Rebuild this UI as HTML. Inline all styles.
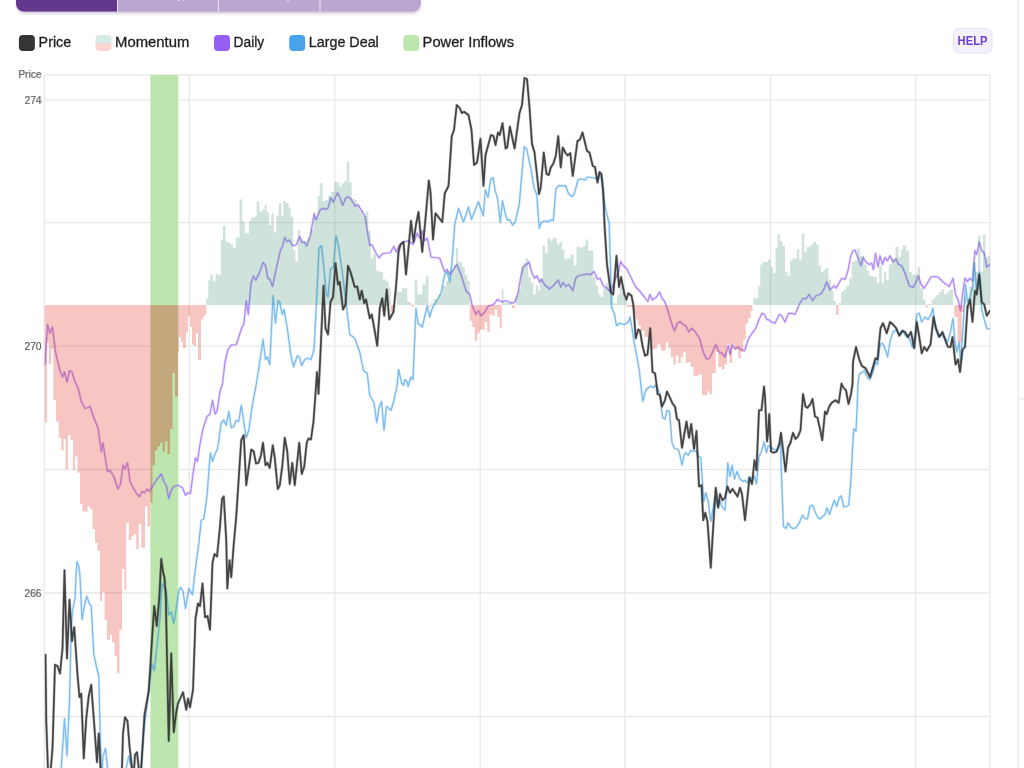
<!DOCTYPE html>
<html><head><meta charset="utf-8"><title>Chart</title>
<style>html,body{margin:0;padding:0;background:#fff;overflow:hidden}body{width:1024px;height:768px;position:relative;font-family:"Liberation Sans",sans-serif}svg{position:absolute;left:0;top:0;display:block}text{font-family:"Liberation Sans",sans-serif}</style></head><body>
<svg width="1024" height="768" viewBox="0 0 1024 768">
<defs>
<clipPath id="plot"><rect x="44.5" y="75.0" width="945.5" height="703.0"/></clipPath>
<clipPath id="band"><rect x="150.4" y="75.0" width="27.900000000000006" height="768"/></clipPath>
<clipPath id="notband"><rect x="0" y="0" width="150.4" height="788"/><rect x="178.3" y="0" width="1024" height="788"/></clipPath>
<filter id="soft" x="-5%" y="-5%" width="110%" height="110%"><feGaussianBlur stdDeviation="0.68"/></filter>
<filter id="soft3" x="-5%" y="-5%" width="110%" height="110%"><feGaussianBlur stdDeviation="0.7"/></filter>
<filter id="soft2" x="-5%" y="-5%" width="110%" height="110%"><feGaussianBlur stdDeviation="0.45"/></filter>
</defs>
<rect width="1024" height="768" fill="#fff"/>
<g filter="url(#soft2)">
<line x1="1018.1" y1="0" x2="1018.1" y2="768" stroke="#ececee" stroke-width="1.5"/>
<line x1="1018.1" y1="399" x2="1024" y2="399" stroke="#ececee" stroke-width="1.5"/>
</g>
<filter id="shadow" x="-5%" y="-50%" width="110%" height="250%"><feGaussianBlur stdDeviation="1.6"/></filter>
<path d="M17,-5 H420 V5 a7,7 0 0 1 -7,7 H24 a7,7 0 0 1 -7,-7 Z" fill="rgba(60,40,90,0.28)" filter="url(#shadow)" transform="translate(0,1.2)"/>
<g filter="url(#soft2)">
<path d="M16,-5 H420.8 V3.5 a8,8 0 0 1 -8,8 H24 a8,8 0 0 1 -8,-8 Z" fill="#bba6cf"/>
<path d="M16,-5 H117 V11.5 H24 a8,8 0 0 1 -8,-8 Z" fill="#62388f"/>
<line x1="117.6" y1="-1" x2="117.6" y2="11.5" stroke="#ece6f3" stroke-width="1"/>
<line x1="218.4" y1="-1" x2="218.4" y2="11.5" stroke="#ece6f3" stroke-width="1"/>
<line x1="320.0" y1="-1" x2="320.0" y2="11.5" stroke="#ece6f3" stroke-width="1"/>
<rect x="178" y="-1" width="1.6" height="2" fill="#efe9f5"/><rect x="183" y="-1" width="1.2" height="1.6" fill="#e6dcee"/><rect x="287.2" y="-1" width="1.6" height="2" fill="#efe9f5"/>
</g>
<g filter="url(#soft2)">
<rect x="18.9" y="35.1" width="16" height="15.8" rx="4" fill="#353535"/>
<clipPath id="mtop"><rect x="95" y="35" width="17" height="8"/></clipPath>
<clipPath id="mbot"><rect x="95" y="43" width="17" height="8.5"/></clipPath>
<rect x="95.5" y="35.1" width="16" height="15.8" rx="4" fill="#d7ebe6" clip-path="url(#mtop)"/>
<rect x="95.5" y="35.1" width="16" height="15.8" rx="4" fill="#fbd5d0" clip-path="url(#mbot)"/>
<rect x="214.0" y="35.1" width="16" height="15.8" rx="4" fill="#9760f5"/>
<rect x="289.2" y="35.1" width="16" height="15.8" rx="4" fill="#4aa3ea"/>
<rect x="403.3" y="35.1" width="16" height="15.8" rx="4" fill="#bde5ae"/>
<text x="38.6" y="47.4" font-size="14" fill="#1f1f1f" stroke="#1f1f1f" stroke-width="0.3" textLength="32.6" lengthAdjust="spacingAndGlyphs">Price</text>
<text x="115.1" y="47.4" font-size="14" fill="#1f1f1f" stroke="#1f1f1f" stroke-width="0.3" textLength="74.2" lengthAdjust="spacingAndGlyphs">Momentum</text>
<text x="233.6" y="47.4" font-size="14" fill="#1f1f1f" stroke="#1f1f1f" stroke-width="0.3" textLength="30.6" lengthAdjust="spacingAndGlyphs">Daily</text>
<text x="308.8" y="47.4" font-size="14" fill="#1f1f1f" stroke="#1f1f1f" stroke-width="0.3" textLength="70.0" lengthAdjust="spacingAndGlyphs">Large Deal</text>
<text x="422.6" y="47.4" font-size="14" fill="#1f1f1f" stroke="#1f1f1f" stroke-width="0.3" textLength="91.5" lengthAdjust="spacingAndGlyphs">Power Inflows</text>
<rect x="953.5" y="28.5" width="38.5" height="24.5" rx="5.5" fill="#f4f1fe" stroke="#e7e1fa" stroke-width="1"/>
<text x="972.6" y="45.3" font-size="12.4" font-weight="bold" fill="#6c41d2" text-anchor="middle" textLength="30" lengthAdjust="spacingAndGlyphs">HELP</text>
</g>
<g filter="url(#soft2)" stroke="#e9e9e9" stroke-width="1.3" fill="none">
<line x1="44.5" y1="75" x2="990.0" y2="75"/>
<line x1="44.5" y1="99.8" x2="990.0" y2="99.8"/>
<line x1="44.5" y1="222.7" x2="990.0" y2="222.7"/>
<line x1="44.5" y1="346.2" x2="990.0" y2="346.2"/>
<line x1="44.5" y1="469.5" x2="990.0" y2="469.5"/>
<line x1="44.5" y1="593" x2="990.0" y2="593"/>
<line x1="44.5" y1="716.5" x2="990.0" y2="716.5"/>
<line x1="44.3" y1="75" x2="44.3" y2="768"/>
<line x1="189.3" y1="75" x2="189.3" y2="768"/>
<line x1="334.8" y1="75" x2="334.8" y2="768"/>
<line x1="480.2" y1="75" x2="480.2" y2="768"/>
<line x1="624.8" y1="75" x2="624.8" y2="768"/>
<line x1="770.5" y1="75" x2="770.5" y2="768"/>
<line x1="915.6" y1="75" x2="915.6" y2="768"/>
<line x1="990" y1="75" x2="990" y2="768"/>
</g>
<g filter="url(#soft2)" fill="#5f5f5f" stroke="#5f5f5f" stroke-width="0.22" font-size="10.3" transform="rotate(0.03 41 350)">
<text x="41.6" y="78.3" text-anchor="end">Price</text>
<text x="41.6" y="103.55" text-anchor="end">274</text>
<text x="41.6" y="349.95" text-anchor="end">270</text>
<text x="41.6" y="596.75" text-anchor="end">266</text>
</g>
<g clip-path="url(#plot)">
<rect x="150.4" y="75.0" width="27.900000000000006" height="768" fill="#bde5ae"/>
<g fill="none" stroke-linejoin="round" stroke-linecap="round">
<polyline points="45.00,364.50 47.50,324.50 50.00,333.00 52.50,327.00 55.50,352.00 60.00,370.75 62.50,377.00 64.50,372.00 67.00,382.00 69.50,370.75 72.00,372.00 75.00,382.00 76.25,384.00 78.75,390.25 81.25,401.50 85.00,408.50 87.50,407.75 90.00,406.50 93.75,417.75 98.00,427.75 101.25,451.50 103.00,442.75 105.00,456.50 107.50,471.50 110.00,470.25 113.75,476.50 118.00,489.00 120.50,484.00 123.00,465.25 125.00,469.00 127.50,462.75 130.00,481.50 133.75,489.00 137.00,494.00 139.50,496.50 142.00,491.50 144.50,492.75 147.00,489.00 149.50,491.50 152.50,486.50 156.25,480.25 161.25,474.00 163.75,481.50 166.25,485.25 168.75,498.50 171.25,490.25 173.75,486.50 178.00,485.25 182.50,487.75 185.50,495.25 188.00,492.75 190.50,493.50 193.00,474.00 195.50,457.75 197.50,461.50 200.00,444.00 203.00,429.00 207.00,416.50 210.00,414.00 212.50,400.25 215.00,414.00 217.00,411.50 220.00,391.50 222.50,384.00 225.00,362.00 228.00,349.50 231.25,345.00 236.25,344.50 238.75,337.00 242.00,327.00 243.75,324.50 246.25,300.75 248.25,314.50 251.00,283.30 253.50,276.00 255.80,280.20 259.40,272.90 263.10,262.50 265.60,265.60 267.70,278.10 269.80,279.20 272.50,286.50 276.00,269.80 280.20,251.00 282.30,246.90 284.80,237.50 287.10,241.70 289.60,240.00 292.70,245.80 296.25,244.80 299.60,236.50 302.10,242.70 304.20,241.70 306.70,245.80 310.40,235.40 314.20,213.50 316.00,219.80 319.80,210.40 322.90,208.30 326.00,209.40 328.10,207.90 330.80,197.90 333.30,202.10 337.50,192.70 339.60,196.90 342.70,205.20 345.80,197.90 348.30,196.90 351.00,199.00 355.20,206.25 357.70,204.60 361.50,210.40 365.20,216.70 367.70,233.30 369.80,245.40 371.90,244.80 376.00,253.10 379.20,257.90 382.30,253.75 390.60,252.50 393.75,246.25 396.25,252.00 399.00,245.80 403.50,242.00 408.50,240.75 413.00,244.50 417.25,233.25 419.75,238.25 422.25,230.75 424.75,240.75 427.25,238.25 431.00,257.00 439.75,258.25 444.75,272.00 447.25,269.50 449.75,274.50 453.50,269.50 456.75,264.50 461.00,274.50 466.00,290.75 469.75,294.50 472.25,305.75 476.00,314.50 478.50,310.75 481.00,315.75 484.75,312.00 488.50,305.75 493.50,304.50 497.25,299.50 502.25,302.00 506.00,300.75 512.00,303.25 515.00,302.00 518.25,292.00 520.75,277.00 523.25,267.00 526.50,264.50 529.00,262.00 532.00,273.25 534.50,278.25 537.00,275.75 539.50,282.00 541.50,279.50 544.50,284.50 549.50,289.00 553.25,285.75 558.25,280.00 560.75,287.00 563.25,282.50 565.75,286.50 569.00,284.50 572.75,290.75 575.75,278.25 578.25,275.75 587.00,274.00 590.75,274.50 594.00,271.50 597.75,279.50 600.00,278.25 603.25,285.75 607.00,288.25 610.75,292.00 615.75,278.25 618.25,272.00 620.75,261.50 623.25,265.75 626.50,268.25 630.75,277.00 635.75,287.00 639.50,290.75 644.50,297.00 647.75,301.50 650.00,294.50 652.50,300.00 656.50,297.00 659.50,292.00 662.00,298.25 665.00,302.00 668.25,312.00 672.00,324.50 674.50,330.75 677.50,323.25 680.00,321.50 683.25,324.50 685.75,325.75 689.00,332.00 691.50,328.25 694.50,330.75 699.50,338.25 703.25,352.00 706.50,359.00 709.50,358.25 712.00,353.25 715.75,344.50 719.00,352.00 722.00,353.25 725.00,357.00 728.25,345.75 730.00,354.50 732.50,345.00 735.00,349.00 737.75,347.00 740.75,349.50 744.50,350.75 748.25,339.50 752.00,333.25 755.75,328.25 759.00,319.50 762.00,313.25 764.50,314.50 767.00,319.50 768.00,319.50 771.75,322.00 775.00,323.25 779.25,314.50 781.75,315.75 785.00,322.00 788.50,313.25 791.75,313.25 795.00,314.50 799.25,304.50 803.00,298.25 805.50,299.00 809.25,294.50 812.50,300.75 816.00,295.75 821.00,294.00 824.25,288.25 826.75,282.00 830.00,290.00 834.25,285.75 836.00,288.25 841.75,278.25 845.00,279.50 848.00,270.75 850.50,257.00 853.00,250.75 855.00,250.00 858.00,258.25 861.00,265.75 863.00,257.50 866.00,262.00 869.25,264.50 871.75,263.25 873.50,269.50 875.50,253.25 878.00,267.00 880.00,255.75 882.50,264.50 885.00,257.50 887.50,260.75 890.00,255.75 893.00,262.00 896.00,259.00 898.50,264.50 901.75,265.75 905.50,274.50 909.25,285.75 913.00,287.50 915.50,283.25 918.50,275.75 921.00,284.50 924.25,288.25 928.00,282.00 931.00,277.00 934.25,276.50 938.00,277.00 941.75,280.75 945.50,284.00 949.25,286.50 953.00,278.25 955.50,294.50 958.00,299.50 960.50,310.75 963.00,290.75 965.00,278.25 967.50,281.50 970.00,278.25 972.50,280.75 975.00,250.75 976.75,254.50 979.25,242.00 981.75,250.75 984.25,253.25 986.75,267.00 990.00,264.50" stroke="#9560f5" stroke-width="2.55" stroke-opacity="0.22"/>
<polyline points="45.00,364.50 47.50,324.50 50.00,333.00 52.50,327.00 55.50,352.00 60.00,370.75 62.50,377.00 64.50,372.00 67.00,382.00 69.50,370.75 72.00,372.00 75.00,382.00 76.25,384.00 78.75,390.25 81.25,401.50 85.00,408.50 87.50,407.75 90.00,406.50 93.75,417.75 98.00,427.75 101.25,451.50 103.00,442.75 105.00,456.50 107.50,471.50 110.00,470.25 113.75,476.50 118.00,489.00 120.50,484.00 123.00,465.25 125.00,469.00 127.50,462.75 130.00,481.50 133.75,489.00 137.00,494.00 139.50,496.50 142.00,491.50 144.50,492.75 147.00,489.00 149.50,491.50 152.50,486.50 156.25,480.25 161.25,474.00 163.75,481.50 166.25,485.25 168.75,498.50 171.25,490.25 173.75,486.50 178.00,485.25 182.50,487.75 185.50,495.25 188.00,492.75 190.50,493.50 193.00,474.00 195.50,457.75 197.50,461.50 200.00,444.00 203.00,429.00 207.00,416.50 210.00,414.00 212.50,400.25 215.00,414.00 217.00,411.50 220.00,391.50 222.50,384.00 225.00,362.00 228.00,349.50 231.25,345.00 236.25,344.50 238.75,337.00 242.00,327.00 243.75,324.50 246.25,300.75 248.25,314.50 251.00,283.30 253.50,276.00 255.80,280.20 259.40,272.90 263.10,262.50 265.60,265.60 267.70,278.10 269.80,279.20 272.50,286.50 276.00,269.80 280.20,251.00 282.30,246.90 284.80,237.50 287.10,241.70 289.60,240.00 292.70,245.80 296.25,244.80 299.60,236.50 302.10,242.70 304.20,241.70 306.70,245.80 310.40,235.40 314.20,213.50 316.00,219.80 319.80,210.40 322.90,208.30 326.00,209.40 328.10,207.90 330.80,197.90 333.30,202.10 337.50,192.70 339.60,196.90 342.70,205.20 345.80,197.90 348.30,196.90 351.00,199.00 355.20,206.25 357.70,204.60 361.50,210.40 365.20,216.70 367.70,233.30 369.80,245.40 371.90,244.80 376.00,253.10 379.20,257.90 382.30,253.75 390.60,252.50 393.75,246.25 396.25,252.00 399.00,245.80 403.50,242.00 408.50,240.75 413.00,244.50 417.25,233.25 419.75,238.25 422.25,230.75 424.75,240.75 427.25,238.25 431.00,257.00 439.75,258.25 444.75,272.00 447.25,269.50 449.75,274.50 453.50,269.50 456.75,264.50 461.00,274.50 466.00,290.75 469.75,294.50 472.25,305.75 476.00,314.50 478.50,310.75 481.00,315.75 484.75,312.00 488.50,305.75 493.50,304.50 497.25,299.50 502.25,302.00 506.00,300.75 512.00,303.25 515.00,302.00 518.25,292.00 520.75,277.00 523.25,267.00 526.50,264.50 529.00,262.00 532.00,273.25 534.50,278.25 537.00,275.75 539.50,282.00 541.50,279.50 544.50,284.50 549.50,289.00 553.25,285.75 558.25,280.00 560.75,287.00 563.25,282.50 565.75,286.50 569.00,284.50 572.75,290.75 575.75,278.25 578.25,275.75 587.00,274.00 590.75,274.50 594.00,271.50 597.75,279.50 600.00,278.25 603.25,285.75 607.00,288.25 610.75,292.00 615.75,278.25 618.25,272.00 620.75,261.50 623.25,265.75 626.50,268.25 630.75,277.00 635.75,287.00 639.50,290.75 644.50,297.00 647.75,301.50 650.00,294.50 652.50,300.00 656.50,297.00 659.50,292.00 662.00,298.25 665.00,302.00 668.25,312.00 672.00,324.50 674.50,330.75 677.50,323.25 680.00,321.50 683.25,324.50 685.75,325.75 689.00,332.00 691.50,328.25 694.50,330.75 699.50,338.25 703.25,352.00 706.50,359.00 709.50,358.25 712.00,353.25 715.75,344.50 719.00,352.00 722.00,353.25 725.00,357.00 728.25,345.75 730.00,354.50 732.50,345.00 735.00,349.00 737.75,347.00 740.75,349.50 744.50,350.75 748.25,339.50 752.00,333.25 755.75,328.25 759.00,319.50 762.00,313.25 764.50,314.50 767.00,319.50 768.00,319.50 771.75,322.00 775.00,323.25 779.25,314.50 781.75,315.75 785.00,322.00 788.50,313.25 791.75,313.25 795.00,314.50 799.25,304.50 803.00,298.25 805.50,299.00 809.25,294.50 812.50,300.75 816.00,295.75 821.00,294.00 824.25,288.25 826.75,282.00 830.00,290.00 834.25,285.75 836.00,288.25 841.75,278.25 845.00,279.50 848.00,270.75 850.50,257.00 853.00,250.75 855.00,250.00 858.00,258.25 861.00,265.75 863.00,257.50 866.00,262.00 869.25,264.50 871.75,263.25 873.50,269.50 875.50,253.25 878.00,267.00 880.00,255.75 882.50,264.50 885.00,257.50 887.50,260.75 890.00,255.75 893.00,262.00 896.00,259.00 898.50,264.50 901.75,265.75 905.50,274.50 909.25,285.75 913.00,287.50 915.50,283.25 918.50,275.75 921.00,284.50 924.25,288.25 928.00,282.00 931.00,277.00 934.25,276.50 938.00,277.00 941.75,280.75 945.50,284.00 949.25,286.50 953.00,278.25 955.50,294.50 958.00,299.50 960.50,310.75 963.00,290.75 965.00,278.25 967.50,281.50 970.00,278.25 972.50,280.75 975.00,250.75 976.75,254.50 979.25,242.00 981.75,250.75 984.25,253.25 986.75,267.00 990.00,264.50" stroke="#9560f5" stroke-width="1.25" stroke-opacity="0.66"/>
<polyline points="58.00,800.00 61.25,768.00 64.50,718.50 67.00,756.00 69.50,701.00 71.25,626.00 72.50,611.00 75.00,598.50 76.00,576.00 77.00,561.50 78.75,566.50 80.00,576.00 82.00,619.75 84.50,606.00 86.75,596.00 89.25,603.50 91.25,606.00 93.75,653.50 96.25,666.00 98.75,676.00 100.00,726.00 101.25,768.00 102.00,775.00 103.00,756.00 105.50,748.50 107.50,768.00 110.00,800.00 120.00,800.00 126.25,768.00 128.75,756.00 131.25,768.00 134.00,800.00 139.00,800.00 141.25,768.00 143.75,731.00 146.25,711.00 148.75,689.75 151.75,663.50 154.25,670.50 157.50,641.00 160.00,618.50 162.00,583.50 163.75,586.00 166.25,589.75 168.75,614.75 171.25,612.25 173.75,623.50 176.25,608.50 178.75,591.00 180.50,587.25 183.00,591.00 185.50,608.50 188.75,588.50 192.50,594.75 194.50,576.00 196.25,562.75 198.75,544.00 201.25,520.25 203.75,519.00 207.00,496.50 209.50,462.75 210.50,452.75 212.50,461.50 215.00,454.00 217.50,449.00 221.25,422.75 223.75,420.25 226.25,425.25 228.75,411.50 231.25,427.75 233.75,426.50 236.25,420.25 238.75,421.50 241.25,405.25 243.75,421.50 246.25,437.75 248.75,430.25 252.50,404.00 256.00,386.00 259.75,362.00 263.00,339.50 265.50,359.50 267.25,357.00 269.75,364.50 273.00,295.75 275.50,323.25 278.00,300.75 279.75,302.00 282.25,314.50 284.00,309.50 287.25,328.25 291.00,355.75 293.50,367.00 297.25,355.75 299.25,357.00 301.75,365.75 304.75,359.50 307.25,358.25 311.00,359.50 314.00,349.50 317.25,287.00 319.00,248.25 321.50,245.75 323.50,264.50 326.00,292.00 328.00,297.00 330.50,269.50 333.50,267.00 336.00,235.75 338.50,245.75 342.25,272.00 346.00,302.00 349.75,334.50 354.75,338.25 359.75,352.00 363.50,370.75 367.25,373.25 369.75,395.25 374.00,402.75 376.75,422.75 379.00,407.75 381.50,401.50 384.00,430.25 386.50,406.50 391.00,410.25 394.00,400.25 397.25,384.00 398.50,369.50 401.75,383.25 403.50,385.25 404.75,379.50 407.25,382.00 408.00,386.50 411.00,377.00 413.00,379.50 414.75,337.00 416.00,308.25 418.00,323.25 422.25,327.00 427.25,305.75 429.75,317.00 432.25,308.25 436.00,302.00 441.00,293.25 444.75,274.50 447.25,272.00 449.75,282.00 452.25,259.50 454.75,224.50 458.50,208.25 463.50,222.00 468.50,207.00 471.50,219.50 478.30,201.70 483.30,215.80 485.30,190.00 488.00,197.50 490.80,179.20 493.00,177.50 495.00,190.00 497.50,198.30 500.30,222.50 502.50,200.80 505.80,215.80 507.50,220.00 509.70,219.70 512.50,225.00 515.00,222.50 519.20,205.00 524.20,146.70 526.70,149.20 530.80,168.30 534.20,188.30 536.70,194.20 539.20,228.30 541.30,222.50 544.20,220.80 548.30,221.70 550.80,219.70 553.30,220.80 555.80,189.20 558.30,185.80 565.80,185.80 568.30,193.30 572.00,196.70 574.20,194.20 578.00,180.00 580.80,178.70 585.00,180.00 587.50,177.00 595.00,178.00 597.50,180.00 600.00,174.20 601.70,179.20 603.30,195.00 605.80,210.00 609.20,223.30 610.50,268.00 611.50,307.00 614.50,314.50 616.50,325.75 619.50,323.25 624.50,324.50 628.25,322.00 630.00,317.00 632.00,328.25 634.50,344.50 637.00,357.00 639.50,372.00 640.75,384.00 642.75,401.50 645.75,390.25 648.25,387.75 650.75,386.00 653.25,387.75 656.00,385.00 659.50,392.75 661.50,409.00 662.75,417.75 665.00,419.00 667.00,410.25 669.50,411.50 672.00,442.75 674.50,448.50 678.25,449.50 680.00,455.25 682.00,465.25 684.00,455.25 685.75,452.75 688.25,455.25 690.75,450.25 693.25,451.50 696.50,451.00 698.25,456.50 700.75,457.75 702.50,482.75 703.75,501.50 705.75,492.75 708.25,501.50 710.75,521.50 713.25,507.75 715.00,496.50 717.50,506.50 719.50,500.25 722.00,506.50 725.00,510.25 726.50,489.00 727.75,462.75 730.00,476.50 732.00,465.25 734.50,479.00 737.00,471.50 740.00,479.00 743.25,481.50 745.00,480.25 747.00,482.75 749.50,476.50 752.00,480.25 754.50,476.50 756.50,484.00 759.00,456.50 761.50,451.50 764.00,442.00 766.50,452.75 768.00,446.00 770.50,446.50 773.50,449.50 776.75,450.25 779.25,445.25 780.50,441.50 781.75,484.00 783.50,526.50 786.00,528.50 788.00,522.75 790.50,527.00 793.00,528.50 796.00,527.75 799.25,522.75 802.50,515.25 805.00,518.50 807.50,519.00 810.00,506.00 812.50,505.25 815.50,512.75 818.00,517.75 820.00,519.00 822.50,516.50 825.00,514.50 827.00,507.75 829.50,514.50 832.00,506.50 834.25,500.25 836.75,506.50 839.25,497.75 841.25,496.00 843.75,507.00 846.25,506.50 848.75,505.25 851.00,479.00 852.50,449.00 853.75,429.00 856.00,431.00 857.25,404.00 858.00,384.00 859.25,374.50 864.25,370.75 868.00,378.25 870.00,379.50 873.00,372.00 875.50,362.00 877.50,364.50 880.00,344.50 882.50,343.25 885.00,348.25 887.50,357.00 890.50,339.50 893.00,332.00 896.25,329.50 899.25,334.50 902.50,330.75 905.50,335.75 909.25,338.25 912.50,347.00 915.00,335.75 916.75,314.50 919.25,313.25 921.75,322.00 925.00,317.00 928.00,319.50 930.50,315.75 933.00,308.25 935.00,327.00 938.00,335.75 941.00,334.50 944.25,337.00 947.50,342.00 950.50,332.00 953.00,318.25 955.00,342.00 956.75,352.00 959.25,342.00 960.50,362.00 963.00,328.25 965.50,284.50 967.50,302.00 970.00,297.00 972.50,287.00 974.25,263.25 976.75,290.75 979.25,272.00 981.75,309.50 984.25,319.50 986.75,328.25 989.25,329.00" stroke="#3f9ee9" stroke-width="2.5" stroke-opacity="0.22"/>
<polyline points="58.00,800.00 61.25,768.00 64.50,718.50 67.00,756.00 69.50,701.00 71.25,626.00 72.50,611.00 75.00,598.50 76.00,576.00 77.00,561.50 78.75,566.50 80.00,576.00 82.00,619.75 84.50,606.00 86.75,596.00 89.25,603.50 91.25,606.00 93.75,653.50 96.25,666.00 98.75,676.00 100.00,726.00 101.25,768.00 102.00,775.00 103.00,756.00 105.50,748.50 107.50,768.00 110.00,800.00 120.00,800.00 126.25,768.00 128.75,756.00 131.25,768.00 134.00,800.00 139.00,800.00 141.25,768.00 143.75,731.00 146.25,711.00 148.75,689.75 151.75,663.50 154.25,670.50 157.50,641.00 160.00,618.50 162.00,583.50 163.75,586.00 166.25,589.75 168.75,614.75 171.25,612.25 173.75,623.50 176.25,608.50 178.75,591.00 180.50,587.25 183.00,591.00 185.50,608.50 188.75,588.50 192.50,594.75 194.50,576.00 196.25,562.75 198.75,544.00 201.25,520.25 203.75,519.00 207.00,496.50 209.50,462.75 210.50,452.75 212.50,461.50 215.00,454.00 217.50,449.00 221.25,422.75 223.75,420.25 226.25,425.25 228.75,411.50 231.25,427.75 233.75,426.50 236.25,420.25 238.75,421.50 241.25,405.25 243.75,421.50 246.25,437.75 248.75,430.25 252.50,404.00 256.00,386.00 259.75,362.00 263.00,339.50 265.50,359.50 267.25,357.00 269.75,364.50 273.00,295.75 275.50,323.25 278.00,300.75 279.75,302.00 282.25,314.50 284.00,309.50 287.25,328.25 291.00,355.75 293.50,367.00 297.25,355.75 299.25,357.00 301.75,365.75 304.75,359.50 307.25,358.25 311.00,359.50 314.00,349.50 317.25,287.00 319.00,248.25 321.50,245.75 323.50,264.50 326.00,292.00 328.00,297.00 330.50,269.50 333.50,267.00 336.00,235.75 338.50,245.75 342.25,272.00 346.00,302.00 349.75,334.50 354.75,338.25 359.75,352.00 363.50,370.75 367.25,373.25 369.75,395.25 374.00,402.75 376.75,422.75 379.00,407.75 381.50,401.50 384.00,430.25 386.50,406.50 391.00,410.25 394.00,400.25 397.25,384.00 398.50,369.50 401.75,383.25 403.50,385.25 404.75,379.50 407.25,382.00 408.00,386.50 411.00,377.00 413.00,379.50 414.75,337.00 416.00,308.25 418.00,323.25 422.25,327.00 427.25,305.75 429.75,317.00 432.25,308.25 436.00,302.00 441.00,293.25 444.75,274.50 447.25,272.00 449.75,282.00 452.25,259.50 454.75,224.50 458.50,208.25 463.50,222.00 468.50,207.00 471.50,219.50 478.30,201.70 483.30,215.80 485.30,190.00 488.00,197.50 490.80,179.20 493.00,177.50 495.00,190.00 497.50,198.30 500.30,222.50 502.50,200.80 505.80,215.80 507.50,220.00 509.70,219.70 512.50,225.00 515.00,222.50 519.20,205.00 524.20,146.70 526.70,149.20 530.80,168.30 534.20,188.30 536.70,194.20 539.20,228.30 541.30,222.50 544.20,220.80 548.30,221.70 550.80,219.70 553.30,220.80 555.80,189.20 558.30,185.80 565.80,185.80 568.30,193.30 572.00,196.70 574.20,194.20 578.00,180.00 580.80,178.70 585.00,180.00 587.50,177.00 595.00,178.00 597.50,180.00 600.00,174.20 601.70,179.20 603.30,195.00 605.80,210.00 609.20,223.30 610.50,268.00 611.50,307.00 614.50,314.50 616.50,325.75 619.50,323.25 624.50,324.50 628.25,322.00 630.00,317.00 632.00,328.25 634.50,344.50 637.00,357.00 639.50,372.00 640.75,384.00 642.75,401.50 645.75,390.25 648.25,387.75 650.75,386.00 653.25,387.75 656.00,385.00 659.50,392.75 661.50,409.00 662.75,417.75 665.00,419.00 667.00,410.25 669.50,411.50 672.00,442.75 674.50,448.50 678.25,449.50 680.00,455.25 682.00,465.25 684.00,455.25 685.75,452.75 688.25,455.25 690.75,450.25 693.25,451.50 696.50,451.00 698.25,456.50 700.75,457.75 702.50,482.75 703.75,501.50 705.75,492.75 708.25,501.50 710.75,521.50 713.25,507.75 715.00,496.50 717.50,506.50 719.50,500.25 722.00,506.50 725.00,510.25 726.50,489.00 727.75,462.75 730.00,476.50 732.00,465.25 734.50,479.00 737.00,471.50 740.00,479.00 743.25,481.50 745.00,480.25 747.00,482.75 749.50,476.50 752.00,480.25 754.50,476.50 756.50,484.00 759.00,456.50 761.50,451.50 764.00,442.00 766.50,452.75 768.00,446.00 770.50,446.50 773.50,449.50 776.75,450.25 779.25,445.25 780.50,441.50 781.75,484.00 783.50,526.50 786.00,528.50 788.00,522.75 790.50,527.00 793.00,528.50 796.00,527.75 799.25,522.75 802.50,515.25 805.00,518.50 807.50,519.00 810.00,506.00 812.50,505.25 815.50,512.75 818.00,517.75 820.00,519.00 822.50,516.50 825.00,514.50 827.00,507.75 829.50,514.50 832.00,506.50 834.25,500.25 836.75,506.50 839.25,497.75 841.25,496.00 843.75,507.00 846.25,506.50 848.75,505.25 851.00,479.00 852.50,449.00 853.75,429.00 856.00,431.00 857.25,404.00 858.00,384.00 859.25,374.50 864.25,370.75 868.00,378.25 870.00,379.50 873.00,372.00 875.50,362.00 877.50,364.50 880.00,344.50 882.50,343.25 885.00,348.25 887.50,357.00 890.50,339.50 893.00,332.00 896.25,329.50 899.25,334.50 902.50,330.75 905.50,335.75 909.25,338.25 912.50,347.00 915.00,335.75 916.75,314.50 919.25,313.25 921.75,322.00 925.00,317.00 928.00,319.50 930.50,315.75 933.00,308.25 935.00,327.00 938.00,335.75 941.00,334.50 944.25,337.00 947.50,342.00 950.50,332.00 953.00,318.25 955.00,342.00 956.75,352.00 959.25,342.00 960.50,362.00 963.00,328.25 965.50,284.50 967.50,302.00 970.00,297.00 972.50,287.00 974.25,263.25 976.75,290.75 979.25,272.00 981.75,309.50 984.25,319.50 986.75,328.25 989.25,329.00" stroke="#3f9ee9" stroke-width="1.2" stroke-opacity="0.62"/>
</g>
<g clip-path="url(#notband)">
<path d="M44.50,305.0V422.75H47.00V305.0ZM47.00,305.0V343.00H48.90V305.0ZM48.90,305.0V364.00H51.25V305.0ZM51.25,305.0V349.00H53.25V305.0ZM53.25,305.0V400.00H56.00V305.0ZM56.00,305.0V421.50H58.75V305.0ZM58.75,305.0V437.75H61.25V305.0ZM61.25,305.0V450.25H63.75V305.0ZM63.75,305.0V439.00H65.50V305.0ZM65.50,305.0V469.00H68.00V305.0ZM68.00,305.0V435.00H70.50V305.0ZM70.50,305.0V440.00H73.00V305.0ZM73.00,305.0V470.00H75.00V305.0ZM75.00,305.0V456.50H77.50V305.0ZM77.50,305.0V472.75H80.00V305.0ZM80.00,305.0V504.00H82.50V305.0ZM82.50,305.0V511.50H87.50V305.0ZM87.50,305.0V506.50H90.00V305.0ZM90.00,305.0V509.00H92.50V305.0ZM92.50,305.0V529.00H95.00V305.0ZM95.00,305.0V542.75H97.50V305.0ZM97.50,305.0V551.00H100.00V305.0ZM100.00,305.0V601.00H102.00V305.0ZM102.00,305.0V592.00H104.50V305.0ZM104.50,305.0V619.75H107.00V305.0ZM107.00,305.0V639.75H110.00V305.0ZM110.00,305.0V634.75H112.00V305.0ZM112.00,305.0V642.25H114.50V305.0ZM114.50,305.0V656.00H117.00V305.0ZM117.00,305.0V673.50H119.50V305.0ZM119.50,305.0V629.75H122.00V305.0ZM122.00,305.0V569.00H124.25V305.0ZM124.25,305.0V589.75H126.25V305.0ZM126.25,305.0V522.75H128.75V305.0ZM128.75,305.0V540.00H131.25V305.0ZM131.25,305.0V536.50H133.75V305.0ZM133.75,305.0V534.00H136.25V305.0ZM136.25,305.0V549.00H138.75V305.0ZM138.75,305.0V524.00H141.25V305.0ZM141.25,305.0V547.75H145.00V305.0ZM145.00,305.0V506.50H147.50V305.0ZM147.50,305.0V526.50H150.00V305.0ZM150.00,305.0V502.75H152.50V305.0ZM152.50,305.0V465.25H155.00V305.0ZM155.00,305.0V450.25H157.50V305.0ZM157.50,305.0V446.50H160.00V305.0ZM160.00,305.0V442.75H162.50V305.0ZM162.50,305.0V451.50H165.00V305.0ZM165.00,305.0V441.50H167.50V305.0ZM167.50,305.0V454.00H170.00V305.0ZM170.00,305.0V429.00H172.50V305.0ZM172.50,305.0V373.00H175.00V305.0ZM175.00,305.0V396.50H178.00V305.0ZM178.00,305.0V352.00H179.00V305.0ZM179.00,305.0V337.00H181.00V305.0ZM181.00,305.0V342.00H183.00V305.0ZM183.00,305.0V348.00H186.00V305.0ZM186.00,305.0V332.00H188.00V305.0ZM188.00,305.0V316.00H190.00V305.0ZM190.00,305.0V327.00H192.00V305.0ZM192.00,305.0V344.50H194.00V305.0ZM194.00,305.0V346.00H196.00V305.0ZM196.00,305.0V333.00H198.00V305.0ZM198.00,305.0V360.00H201.00V305.0ZM201.00,305.0V319.50H203.00V305.0ZM203.00,305.0V316.00H205.00V305.0ZM205.00,305.0V314.00H206.25V305.0ZM390.60,305.0V312.00H393.75V305.0ZM411.00,305.0V306.50H414.75V305.0ZM428.50,305.0V306.50H431.00V305.0ZM469.75,305.0V320.75H472.25V305.0ZM472.25,305.0V327.00H474.75V305.0ZM474.75,305.0V340.75H477.25V305.0ZM477.25,305.0V333.25H479.75V305.0ZM479.75,305.0V329.50H484.75V305.0ZM484.75,305.0V322.00H487.25V305.0ZM487.25,305.0V332.00H489.75V305.0ZM489.75,305.0V314.50H492.25V305.0ZM492.25,305.0V315.75H494.75V305.0ZM494.75,305.0V309.50H497.25V305.0ZM497.25,305.0V317.00H499.75V305.0ZM499.75,305.0V328.25H501.75V305.0ZM512.00,305.0V308.00H515.00V305.0ZM627.00,305.0V307.00H633.25V305.0ZM633.25,305.0V314.50H635.75V305.0ZM635.75,305.0V319.50H638.25V305.0ZM638.25,305.0V325.75H640.75V305.0ZM640.75,305.0V330.75H644.50V305.0ZM644.50,305.0V337.00H648.25V305.0ZM648.25,305.0V338.00H651.50V305.0ZM651.50,305.0V349.50H654.50V305.0ZM654.50,305.0V348.25H657.00V305.0ZM657.00,305.0V344.50H660.75V305.0ZM660.75,305.0V350.75H665.75V305.0ZM665.75,305.0V342.00H668.25V305.0ZM668.25,305.0V348.25H670.75V305.0ZM670.75,305.0V357.00H673.25V305.0ZM673.25,305.0V364.50H675.75V305.0ZM675.75,305.0V355.75H678.25V305.0ZM678.25,305.0V363.25H680.75V305.0ZM680.75,305.0V357.00H683.25V305.0ZM683.25,305.0V352.00H685.75V305.0ZM685.75,305.0V363.00H688.25V305.0ZM688.25,305.0V362.00H690.75V305.0ZM690.75,305.0V367.00H693.25V305.0ZM693.25,305.0V375.75H698.25V305.0ZM698.25,305.0V374.50H702.00V305.0ZM702.00,305.0V395.25H707.00V305.0ZM707.00,305.0V391.50H709.50V305.0ZM709.50,305.0V394.00H712.00V305.0ZM712.00,305.0V373.25H715.75V305.0ZM715.75,305.0V352.00H718.25V305.0ZM718.25,305.0V367.00H722.00V305.0ZM722.00,305.0V369.50H724.50V305.0ZM724.50,305.0V364.50H727.00V305.0ZM727.00,305.0V344.50H729.50V305.0ZM729.50,305.0V363.00H732.00V305.0ZM732.00,305.0V344.50H734.50V305.0ZM734.50,305.0V349.50H738.25V305.0ZM738.25,305.0V358.25H740.75V305.0ZM740.75,305.0V352.00H743.25V305.0ZM743.25,305.0V339.50H745.75V305.0ZM745.75,305.0V323.25H748.25V305.0ZM748.25,305.0V318.25H750.75V305.0ZM750.75,305.0V310.75H752.50V305.0ZM836.00,305.0V315.00H838.50V305.0ZM925.50,305.0V307.50H927.50V305.0ZM954.25,305.0V317.00H957.50V305.0ZM957.50,305.0V342.00H961.75V305.0ZM961.75,305.0V312.00H963.75V305.0ZM966.25,305.0V309.50H969.25V305.0Z" fill="rgba(232,65,52,0.30)"/>
<path d="M206.25,305.0V299.00H208.30V305.0ZM208.30,305.0V280.20H210.40V305.0ZM210.40,305.0V274.60H212.90V305.0ZM212.90,305.0V281.25H215.60V305.0ZM215.60,305.0V274.00H218.30V305.0ZM218.30,305.0V275.00H220.80V305.0ZM220.80,305.0V240.00H222.90V305.0ZM222.90,305.0V226.00H225.40V305.0ZM225.40,305.0V241.70H228.10V305.0ZM228.10,305.0V242.70H230.80V305.0ZM230.80,305.0V244.80H233.30V305.0ZM233.30,305.0V247.90H235.80V305.0ZM235.80,305.0V237.50H239.60V305.0ZM239.60,305.0V199.60H242.30V305.0ZM242.30,305.0V221.25H244.80V305.0ZM244.80,305.0V233.30H249.00V305.0ZM249.00,305.0V220.80H251.00V305.0ZM251.00,305.0V217.70H254.20V305.0ZM254.20,305.0V216.70H256.70V305.0ZM256.70,305.0V201.70H259.40V305.0ZM259.40,305.0V211.50H262.50V305.0ZM262.50,305.0V209.40H264.60V305.0ZM264.60,305.0V204.60H266.70V305.0ZM266.70,305.0V212.50H269.20V305.0ZM269.20,305.0V225.00H271.25V305.0ZM271.25,305.0V213.50H273.75V305.0ZM273.75,305.0V232.30H276.25V305.0ZM276.25,305.0V215.60H278.75V305.0ZM278.75,305.0V203.00H281.25V305.0ZM281.25,305.0V215.60H283.30V305.0ZM283.30,305.0V201.00H285.80V305.0ZM285.80,305.0V203.00H288.50V305.0ZM288.50,305.0V207.30H290.60V305.0ZM290.60,305.0V216.70H293.10V305.0ZM293.10,305.0V250.00H295.40V305.0ZM295.40,305.0V261.50H297.90V305.0ZM297.90,305.0V230.20H300.40V305.0ZM300.40,305.0V239.60H303.10V305.0ZM303.10,305.0V241.70H307.30V305.0ZM307.30,305.0V237.50H310.40V305.0ZM310.40,305.0V229.20H313.50V305.0ZM313.50,305.0V216.70H317.70V305.0ZM317.70,305.0V195.80H319.80V305.0ZM319.80,305.0V183.30H322.50V305.0ZM322.50,305.0V201.00H325.00V305.0ZM325.00,305.0V200.00H328.10V305.0ZM328.10,305.0V195.80H331.25V305.0ZM331.25,305.0V191.70H334.40V305.0ZM334.40,305.0V182.30H339.20V305.0ZM339.20,305.0V186.50H341.70V305.0ZM341.70,305.0V183.30H344.20V305.0ZM344.20,305.0V181.25H346.70V305.0ZM346.70,305.0V161.50H349.20V305.0ZM349.20,305.0V182.30H351.70V305.0ZM351.70,305.0V199.00H354.20V305.0ZM354.20,305.0V200.00H356.70V305.0ZM356.70,305.0V205.00H359.40V305.0ZM359.40,305.0V210.40H362.50V305.0ZM362.50,305.0V215.60H365.60V305.0ZM365.60,305.0V211.50H368.30V305.0ZM368.30,305.0V231.25H370.80V305.0ZM370.80,305.0V258.30H373.30V305.0ZM373.30,305.0V254.20H376.00V305.0ZM376.00,305.0V270.80H379.20V305.0ZM379.20,305.0V271.90H382.90V305.0ZM382.90,305.0V279.20H385.40V305.0ZM385.40,305.0V281.25H388.50V305.0ZM388.50,305.0V287.50H390.60V305.0ZM396.90,305.0V292.00H402.00V305.0ZM402.00,305.0V288.25H407.25V305.0ZM407.25,305.0V302.00H411.00V305.0ZM414.75,305.0V279.50H417.25V305.0ZM417.25,305.0V294.50H422.25V305.0ZM422.25,305.0V284.50H426.00V305.0ZM426.00,305.0V275.75H428.50V305.0ZM431.00,305.0V303.00H433.50V305.0ZM433.50,305.0V299.50H438.50V305.0ZM438.50,305.0V294.50H442.25V305.0ZM442.25,305.0V285.75H446.00V305.0ZM446.00,305.0V280.75H449.75V305.0ZM449.75,305.0V269.50H453.50V305.0ZM453.50,305.0V264.50H456.00V305.0ZM456.00,305.0V248.25H458.00V305.0ZM458.00,305.0V262.00H462.25V305.0ZM462.25,305.0V267.00H464.75V305.0ZM464.75,305.0V274.50H467.25V305.0ZM467.25,305.0V280.75H469.75V305.0ZM501.75,305.0V289.50H503.50V305.0ZM503.50,305.0V303.00H512.00V305.0ZM515.75,305.0V296.00H518.25V305.0ZM518.25,305.0V289.50H520.75V305.0ZM520.75,305.0V267.00H523.25V305.0ZM523.25,305.0V263.00H525.75V305.0ZM525.75,305.0V258.00H528.25V305.0ZM528.25,305.0V277.00H530.75V305.0ZM530.75,305.0V283.00H533.25V305.0ZM533.25,305.0V294.50H535.75V305.0ZM535.75,305.0V285.75H538.25V305.0ZM538.25,305.0V290.75H540.00V305.0ZM540.00,305.0V278.00H542.50V305.0ZM542.50,305.0V245.75H545.00V305.0ZM545.00,305.0V253.00H547.50V305.0ZM547.50,305.0V238.25H550.00V305.0ZM550.00,305.0V240.75H552.50V305.0ZM552.50,305.0V237.75H554.50V305.0ZM554.50,305.0V238.25H557.00V305.0ZM557.00,305.0V244.50H559.50V305.0ZM559.50,305.0V242.00H562.00V305.0ZM562.00,305.0V249.50H564.50V305.0ZM564.50,305.0V259.50H567.00V305.0ZM567.00,305.0V258.25H570.75V305.0ZM570.75,305.0V254.50H573.75V305.0ZM573.75,305.0V265.75H576.50V305.0ZM576.50,305.0V247.00H579.50V305.0ZM579.50,305.0V247.50H583.25V305.0ZM583.25,305.0V245.75H585.75V305.0ZM585.75,305.0V239.50H588.25V305.0ZM588.25,305.0V250.75H593.25V305.0ZM593.25,305.0V277.00H595.75V305.0ZM595.75,305.0V285.75H598.25V305.0ZM598.25,305.0V294.50H600.75V305.0ZM600.75,305.0V297.00H603.25V305.0ZM603.25,305.0V288.25H605.75V305.0ZM605.75,305.0V283.25H608.25V305.0ZM608.25,305.0V285.75H610.75V305.0ZM610.75,305.0V293.25H613.25V305.0ZM613.25,305.0V303.25H617.00V305.0ZM617.00,305.0V294.50H620.00V305.0ZM620.00,305.0V287.00H622.00V305.0ZM622.00,305.0V292.00H624.50V305.0ZM624.50,305.0V298.25H627.00V305.0ZM753.25,305.0V298.25H758.25V305.0ZM758.25,305.0V285.75H760.25V305.0ZM760.25,305.0V264.50H762.75V305.0ZM762.75,305.0V262.00H768.00V305.0ZM768.00,305.0V259.50H770.50V305.0ZM770.50,305.0V267.00H773.00V305.0ZM773.00,305.0V273.00H775.50V305.0ZM775.50,305.0V248.00H777.50V305.0ZM777.50,305.0V234.50H780.00V305.0ZM780.00,305.0V240.75H782.50V305.0ZM782.50,305.0V245.75H785.00V305.0ZM785.00,305.0V272.00H787.50V305.0ZM787.50,305.0V275.75H790.00V305.0ZM790.00,305.0V260.75H792.50V305.0ZM792.50,305.0V258.25H796.75V305.0ZM796.75,305.0V249.50H799.25V305.0ZM799.25,305.0V259.50H801.75V305.0ZM801.75,305.0V233.25H804.25V305.0ZM804.25,305.0V252.00H806.75V305.0ZM806.75,305.0V247.00H810.50V305.0ZM810.50,305.0V244.50H813.00V305.0ZM813.00,305.0V242.00H816.00V305.0ZM816.00,305.0V244.50H818.50V305.0ZM818.50,305.0V265.75H821.00V305.0ZM821.00,305.0V272.00H823.50V305.0ZM823.50,305.0V269.50H826.00V305.0ZM826.00,305.0V268.25H828.50V305.0ZM828.50,305.0V279.50H831.00V305.0ZM831.00,305.0V290.75H833.50V305.0ZM833.50,305.0V300.75H836.00V305.0ZM838.50,305.0V303.00H841.00V305.0ZM841.00,305.0V292.00H843.50V305.0ZM843.50,305.0V289.50H846.00V305.0ZM846.00,305.0V285.75H849.25V305.0ZM849.25,305.0V278.25H851.75V305.0ZM851.75,305.0V262.00H854.25V305.0ZM854.25,305.0V260.75H857.25V305.0ZM857.25,305.0V248.25H859.75V305.0ZM859.75,305.0V255.75H864.25V305.0ZM864.25,305.0V264.50H866.75V305.0ZM866.75,305.0V270.75H869.25V305.0ZM869.25,305.0V275.75H873.00V305.0ZM873.00,305.0V277.00H876.75V305.0ZM876.75,305.0V283.00H879.25V305.0ZM879.25,305.0V265.75H881.75V305.0ZM881.75,305.0V283.00H883.75V305.0ZM883.75,305.0V272.00H886.25V305.0ZM886.25,305.0V279.50H888.75V305.0ZM888.75,305.0V264.50H891.75V305.0ZM891.75,305.0V258.25H895.50V305.0ZM895.50,305.0V247.00H898.50V305.0ZM898.50,305.0V257.00H901.00V305.0ZM901.00,305.0V249.50H903.00V305.0ZM903.00,305.0V245.75H906.00V305.0ZM906.00,305.0V250.75H909.25V305.0ZM909.25,305.0V272.00H911.75V305.0ZM911.75,305.0V274.50H917.50V305.0ZM917.50,305.0V267.00H920.00V305.0ZM920.00,305.0V288.25H923.00V305.0ZM923.00,305.0V299.50H925.50V305.0ZM927.50,305.0V304.00H931.75V305.0ZM931.75,305.0V299.50H934.25V305.0ZM934.25,305.0V297.00H936.75V305.0ZM936.75,305.0V294.50H939.25V305.0ZM939.25,305.0V292.00H941.75V305.0ZM941.75,305.0V289.00H944.25V305.0ZM944.25,305.0V294.50H946.75V305.0ZM946.75,305.0V292.00H949.25V305.0ZM949.25,305.0V289.50H953.00V305.0ZM953.00,305.0V304.50H954.25V305.0ZM963.75,305.0V297.00H966.25V305.0ZM969.25,305.0V287.00H973.00V305.0ZM973.00,305.0V262.00H975.50V305.0ZM975.50,305.0V272.00H978.00V305.0ZM978.00,305.0V235.75H980.50V305.0ZM980.50,305.0V272.00H983.00V305.0ZM983.00,305.0V234.50H985.50V305.0ZM985.50,305.0V257.00H988.00V305.0ZM988.00,305.0V255.75H990.00V305.0Z" fill="rgba(63,143,115,0.25)"/>
</g>
<g clip-path="url(#band)">
<path d="M44.50,305.0V422.75H47.00V305.0ZM47.00,305.0V343.00H48.90V305.0ZM48.90,305.0V364.00H51.25V305.0ZM51.25,305.0V349.00H53.25V305.0ZM53.25,305.0V400.00H56.00V305.0ZM56.00,305.0V421.50H58.75V305.0ZM58.75,305.0V437.75H61.25V305.0ZM61.25,305.0V450.25H63.75V305.0ZM63.75,305.0V439.00H65.50V305.0ZM65.50,305.0V469.00H68.00V305.0ZM68.00,305.0V435.00H70.50V305.0ZM70.50,305.0V440.00H73.00V305.0ZM73.00,305.0V470.00H75.00V305.0ZM75.00,305.0V456.50H77.50V305.0ZM77.50,305.0V472.75H80.00V305.0ZM80.00,305.0V504.00H82.50V305.0ZM82.50,305.0V511.50H87.50V305.0ZM87.50,305.0V506.50H90.00V305.0ZM90.00,305.0V509.00H92.50V305.0ZM92.50,305.0V529.00H95.00V305.0ZM95.00,305.0V542.75H97.50V305.0ZM97.50,305.0V551.00H100.00V305.0ZM100.00,305.0V601.00H102.00V305.0ZM102.00,305.0V592.00H104.50V305.0ZM104.50,305.0V619.75H107.00V305.0ZM107.00,305.0V639.75H110.00V305.0ZM110.00,305.0V634.75H112.00V305.0ZM112.00,305.0V642.25H114.50V305.0ZM114.50,305.0V656.00H117.00V305.0ZM117.00,305.0V673.50H119.50V305.0ZM119.50,305.0V629.75H122.00V305.0ZM122.00,305.0V569.00H124.25V305.0ZM124.25,305.0V589.75H126.25V305.0ZM126.25,305.0V522.75H128.75V305.0ZM128.75,305.0V540.00H131.25V305.0ZM131.25,305.0V536.50H133.75V305.0ZM133.75,305.0V534.00H136.25V305.0ZM136.25,305.0V549.00H138.75V305.0ZM138.75,305.0V524.00H141.25V305.0ZM141.25,305.0V547.75H145.00V305.0ZM145.00,305.0V506.50H147.50V305.0ZM147.50,305.0V526.50H150.00V305.0ZM150.00,305.0V502.75H152.50V305.0ZM152.50,305.0V465.25H155.00V305.0ZM155.00,305.0V450.25H157.50V305.0ZM157.50,305.0V446.50H160.00V305.0ZM160.00,305.0V442.75H162.50V305.0ZM162.50,305.0V451.50H165.00V305.0ZM165.00,305.0V441.50H167.50V305.0ZM167.50,305.0V454.00H170.00V305.0ZM170.00,305.0V429.00H172.50V305.0ZM172.50,305.0V373.00H175.00V305.0ZM175.00,305.0V396.50H178.00V305.0ZM178.00,305.0V352.00H179.00V305.0ZM179.00,305.0V337.00H181.00V305.0ZM181.00,305.0V342.00H183.00V305.0ZM183.00,305.0V348.00H186.00V305.0ZM186.00,305.0V332.00H188.00V305.0ZM188.00,305.0V316.00H190.00V305.0ZM190.00,305.0V327.00H192.00V305.0ZM192.00,305.0V344.50H194.00V305.0ZM194.00,305.0V346.00H196.00V305.0ZM196.00,305.0V333.00H198.00V305.0ZM198.00,305.0V360.00H201.00V305.0ZM201.00,305.0V319.50H203.00V305.0ZM203.00,305.0V316.00H205.00V305.0ZM205.00,305.0V314.00H206.25V305.0ZM390.60,305.0V312.00H393.75V305.0ZM411.00,305.0V306.50H414.75V305.0ZM428.50,305.0V306.50H431.00V305.0ZM469.75,305.0V320.75H472.25V305.0ZM472.25,305.0V327.00H474.75V305.0ZM474.75,305.0V340.75H477.25V305.0ZM477.25,305.0V333.25H479.75V305.0ZM479.75,305.0V329.50H484.75V305.0ZM484.75,305.0V322.00H487.25V305.0ZM487.25,305.0V332.00H489.75V305.0ZM489.75,305.0V314.50H492.25V305.0ZM492.25,305.0V315.75H494.75V305.0ZM494.75,305.0V309.50H497.25V305.0ZM497.25,305.0V317.00H499.75V305.0ZM499.75,305.0V328.25H501.75V305.0ZM512.00,305.0V308.00H515.00V305.0ZM627.00,305.0V307.00H633.25V305.0ZM633.25,305.0V314.50H635.75V305.0ZM635.75,305.0V319.50H638.25V305.0ZM638.25,305.0V325.75H640.75V305.0ZM640.75,305.0V330.75H644.50V305.0ZM644.50,305.0V337.00H648.25V305.0ZM648.25,305.0V338.00H651.50V305.0ZM651.50,305.0V349.50H654.50V305.0ZM654.50,305.0V348.25H657.00V305.0ZM657.00,305.0V344.50H660.75V305.0ZM660.75,305.0V350.75H665.75V305.0ZM665.75,305.0V342.00H668.25V305.0ZM668.25,305.0V348.25H670.75V305.0ZM670.75,305.0V357.00H673.25V305.0ZM673.25,305.0V364.50H675.75V305.0ZM675.75,305.0V355.75H678.25V305.0ZM678.25,305.0V363.25H680.75V305.0ZM680.75,305.0V357.00H683.25V305.0ZM683.25,305.0V352.00H685.75V305.0ZM685.75,305.0V363.00H688.25V305.0ZM688.25,305.0V362.00H690.75V305.0ZM690.75,305.0V367.00H693.25V305.0ZM693.25,305.0V375.75H698.25V305.0ZM698.25,305.0V374.50H702.00V305.0ZM702.00,305.0V395.25H707.00V305.0ZM707.00,305.0V391.50H709.50V305.0ZM709.50,305.0V394.00H712.00V305.0ZM712.00,305.0V373.25H715.75V305.0ZM715.75,305.0V352.00H718.25V305.0ZM718.25,305.0V367.00H722.00V305.0ZM722.00,305.0V369.50H724.50V305.0ZM724.50,305.0V364.50H727.00V305.0ZM727.00,305.0V344.50H729.50V305.0ZM729.50,305.0V363.00H732.00V305.0ZM732.00,305.0V344.50H734.50V305.0ZM734.50,305.0V349.50H738.25V305.0ZM738.25,305.0V358.25H740.75V305.0ZM740.75,305.0V352.00H743.25V305.0ZM743.25,305.0V339.50H745.75V305.0ZM745.75,305.0V323.25H748.25V305.0ZM748.25,305.0V318.25H750.75V305.0ZM750.75,305.0V310.75H752.50V305.0ZM836.00,305.0V315.00H838.50V305.0ZM925.50,305.0V307.50H927.50V305.0ZM954.25,305.0V317.00H957.50V305.0ZM957.50,305.0V342.00H961.75V305.0ZM961.75,305.0V312.00H963.75V305.0ZM966.25,305.0V309.50H969.25V305.0Z" fill="rgba(206,74,52,0.40)"/>
<path d="M206.25,305.0V299.00H208.30V305.0ZM208.30,305.0V280.20H210.40V305.0ZM210.40,305.0V274.60H212.90V305.0ZM212.90,305.0V281.25H215.60V305.0ZM215.60,305.0V274.00H218.30V305.0ZM218.30,305.0V275.00H220.80V305.0ZM220.80,305.0V240.00H222.90V305.0ZM222.90,305.0V226.00H225.40V305.0ZM225.40,305.0V241.70H228.10V305.0ZM228.10,305.0V242.70H230.80V305.0ZM230.80,305.0V244.80H233.30V305.0ZM233.30,305.0V247.90H235.80V305.0ZM235.80,305.0V237.50H239.60V305.0ZM239.60,305.0V199.60H242.30V305.0ZM242.30,305.0V221.25H244.80V305.0ZM244.80,305.0V233.30H249.00V305.0ZM249.00,305.0V220.80H251.00V305.0ZM251.00,305.0V217.70H254.20V305.0ZM254.20,305.0V216.70H256.70V305.0ZM256.70,305.0V201.70H259.40V305.0ZM259.40,305.0V211.50H262.50V305.0ZM262.50,305.0V209.40H264.60V305.0ZM264.60,305.0V204.60H266.70V305.0ZM266.70,305.0V212.50H269.20V305.0ZM269.20,305.0V225.00H271.25V305.0ZM271.25,305.0V213.50H273.75V305.0ZM273.75,305.0V232.30H276.25V305.0ZM276.25,305.0V215.60H278.75V305.0ZM278.75,305.0V203.00H281.25V305.0ZM281.25,305.0V215.60H283.30V305.0ZM283.30,305.0V201.00H285.80V305.0ZM285.80,305.0V203.00H288.50V305.0ZM288.50,305.0V207.30H290.60V305.0ZM290.60,305.0V216.70H293.10V305.0ZM293.10,305.0V250.00H295.40V305.0ZM295.40,305.0V261.50H297.90V305.0ZM297.90,305.0V230.20H300.40V305.0ZM300.40,305.0V239.60H303.10V305.0ZM303.10,305.0V241.70H307.30V305.0ZM307.30,305.0V237.50H310.40V305.0ZM310.40,305.0V229.20H313.50V305.0ZM313.50,305.0V216.70H317.70V305.0ZM317.70,305.0V195.80H319.80V305.0ZM319.80,305.0V183.30H322.50V305.0ZM322.50,305.0V201.00H325.00V305.0ZM325.00,305.0V200.00H328.10V305.0ZM328.10,305.0V195.80H331.25V305.0ZM331.25,305.0V191.70H334.40V305.0ZM334.40,305.0V182.30H339.20V305.0ZM339.20,305.0V186.50H341.70V305.0ZM341.70,305.0V183.30H344.20V305.0ZM344.20,305.0V181.25H346.70V305.0ZM346.70,305.0V161.50H349.20V305.0ZM349.20,305.0V182.30H351.70V305.0ZM351.70,305.0V199.00H354.20V305.0ZM354.20,305.0V200.00H356.70V305.0ZM356.70,305.0V205.00H359.40V305.0ZM359.40,305.0V210.40H362.50V305.0ZM362.50,305.0V215.60H365.60V305.0ZM365.60,305.0V211.50H368.30V305.0ZM368.30,305.0V231.25H370.80V305.0ZM370.80,305.0V258.30H373.30V305.0ZM373.30,305.0V254.20H376.00V305.0ZM376.00,305.0V270.80H379.20V305.0ZM379.20,305.0V271.90H382.90V305.0ZM382.90,305.0V279.20H385.40V305.0ZM385.40,305.0V281.25H388.50V305.0ZM388.50,305.0V287.50H390.60V305.0ZM396.90,305.0V292.00H402.00V305.0ZM402.00,305.0V288.25H407.25V305.0ZM407.25,305.0V302.00H411.00V305.0ZM414.75,305.0V279.50H417.25V305.0ZM417.25,305.0V294.50H422.25V305.0ZM422.25,305.0V284.50H426.00V305.0ZM426.00,305.0V275.75H428.50V305.0ZM431.00,305.0V303.00H433.50V305.0ZM433.50,305.0V299.50H438.50V305.0ZM438.50,305.0V294.50H442.25V305.0ZM442.25,305.0V285.75H446.00V305.0ZM446.00,305.0V280.75H449.75V305.0ZM449.75,305.0V269.50H453.50V305.0ZM453.50,305.0V264.50H456.00V305.0ZM456.00,305.0V248.25H458.00V305.0ZM458.00,305.0V262.00H462.25V305.0ZM462.25,305.0V267.00H464.75V305.0ZM464.75,305.0V274.50H467.25V305.0ZM467.25,305.0V280.75H469.75V305.0ZM501.75,305.0V289.50H503.50V305.0ZM503.50,305.0V303.00H512.00V305.0ZM515.75,305.0V296.00H518.25V305.0ZM518.25,305.0V289.50H520.75V305.0ZM520.75,305.0V267.00H523.25V305.0ZM523.25,305.0V263.00H525.75V305.0ZM525.75,305.0V258.00H528.25V305.0ZM528.25,305.0V277.00H530.75V305.0ZM530.75,305.0V283.00H533.25V305.0ZM533.25,305.0V294.50H535.75V305.0ZM535.75,305.0V285.75H538.25V305.0ZM538.25,305.0V290.75H540.00V305.0ZM540.00,305.0V278.00H542.50V305.0ZM542.50,305.0V245.75H545.00V305.0ZM545.00,305.0V253.00H547.50V305.0ZM547.50,305.0V238.25H550.00V305.0ZM550.00,305.0V240.75H552.50V305.0ZM552.50,305.0V237.75H554.50V305.0ZM554.50,305.0V238.25H557.00V305.0ZM557.00,305.0V244.50H559.50V305.0ZM559.50,305.0V242.00H562.00V305.0ZM562.00,305.0V249.50H564.50V305.0ZM564.50,305.0V259.50H567.00V305.0ZM567.00,305.0V258.25H570.75V305.0ZM570.75,305.0V254.50H573.75V305.0ZM573.75,305.0V265.75H576.50V305.0ZM576.50,305.0V247.00H579.50V305.0ZM579.50,305.0V247.50H583.25V305.0ZM583.25,305.0V245.75H585.75V305.0ZM585.75,305.0V239.50H588.25V305.0ZM588.25,305.0V250.75H593.25V305.0ZM593.25,305.0V277.00H595.75V305.0ZM595.75,305.0V285.75H598.25V305.0ZM598.25,305.0V294.50H600.75V305.0ZM600.75,305.0V297.00H603.25V305.0ZM603.25,305.0V288.25H605.75V305.0ZM605.75,305.0V283.25H608.25V305.0ZM608.25,305.0V285.75H610.75V305.0ZM610.75,305.0V293.25H613.25V305.0ZM613.25,305.0V303.25H617.00V305.0ZM617.00,305.0V294.50H620.00V305.0ZM620.00,305.0V287.00H622.00V305.0ZM622.00,305.0V292.00H624.50V305.0ZM624.50,305.0V298.25H627.00V305.0ZM753.25,305.0V298.25H758.25V305.0ZM758.25,305.0V285.75H760.25V305.0ZM760.25,305.0V264.50H762.75V305.0ZM762.75,305.0V262.00H768.00V305.0ZM768.00,305.0V259.50H770.50V305.0ZM770.50,305.0V267.00H773.00V305.0ZM773.00,305.0V273.00H775.50V305.0ZM775.50,305.0V248.00H777.50V305.0ZM777.50,305.0V234.50H780.00V305.0ZM780.00,305.0V240.75H782.50V305.0ZM782.50,305.0V245.75H785.00V305.0ZM785.00,305.0V272.00H787.50V305.0ZM787.50,305.0V275.75H790.00V305.0ZM790.00,305.0V260.75H792.50V305.0ZM792.50,305.0V258.25H796.75V305.0ZM796.75,305.0V249.50H799.25V305.0ZM799.25,305.0V259.50H801.75V305.0ZM801.75,305.0V233.25H804.25V305.0ZM804.25,305.0V252.00H806.75V305.0ZM806.75,305.0V247.00H810.50V305.0ZM810.50,305.0V244.50H813.00V305.0ZM813.00,305.0V242.00H816.00V305.0ZM816.00,305.0V244.50H818.50V305.0ZM818.50,305.0V265.75H821.00V305.0ZM821.00,305.0V272.00H823.50V305.0ZM823.50,305.0V269.50H826.00V305.0ZM826.00,305.0V268.25H828.50V305.0ZM828.50,305.0V279.50H831.00V305.0ZM831.00,305.0V290.75H833.50V305.0ZM833.50,305.0V300.75H836.00V305.0ZM838.50,305.0V303.00H841.00V305.0ZM841.00,305.0V292.00H843.50V305.0ZM843.50,305.0V289.50H846.00V305.0ZM846.00,305.0V285.75H849.25V305.0ZM849.25,305.0V278.25H851.75V305.0ZM851.75,305.0V262.00H854.25V305.0ZM854.25,305.0V260.75H857.25V305.0ZM857.25,305.0V248.25H859.75V305.0ZM859.75,305.0V255.75H864.25V305.0ZM864.25,305.0V264.50H866.75V305.0ZM866.75,305.0V270.75H869.25V305.0ZM869.25,305.0V275.75H873.00V305.0ZM873.00,305.0V277.00H876.75V305.0ZM876.75,305.0V283.00H879.25V305.0ZM879.25,305.0V265.75H881.75V305.0ZM881.75,305.0V283.00H883.75V305.0ZM883.75,305.0V272.00H886.25V305.0ZM886.25,305.0V279.50H888.75V305.0ZM888.75,305.0V264.50H891.75V305.0ZM891.75,305.0V258.25H895.50V305.0ZM895.50,305.0V247.00H898.50V305.0ZM898.50,305.0V257.00H901.00V305.0ZM901.00,305.0V249.50H903.00V305.0ZM903.00,305.0V245.75H906.00V305.0ZM906.00,305.0V250.75H909.25V305.0ZM909.25,305.0V272.00H911.75V305.0ZM911.75,305.0V274.50H917.50V305.0ZM917.50,305.0V267.00H920.00V305.0ZM920.00,305.0V288.25H923.00V305.0ZM923.00,305.0V299.50H925.50V305.0ZM927.50,305.0V304.00H931.75V305.0ZM931.75,305.0V299.50H934.25V305.0ZM934.25,305.0V297.00H936.75V305.0ZM936.75,305.0V294.50H939.25V305.0ZM939.25,305.0V292.00H941.75V305.0ZM941.75,305.0V289.00H944.25V305.0ZM944.25,305.0V294.50H946.75V305.0ZM946.75,305.0V292.00H949.25V305.0ZM949.25,305.0V289.50H953.00V305.0ZM953.00,305.0V304.50H954.25V305.0ZM963.75,305.0V297.00H966.25V305.0ZM969.25,305.0V287.00H973.00V305.0ZM973.00,305.0V262.00H975.50V305.0ZM975.50,305.0V272.00H978.00V305.0ZM978.00,305.0V235.75H980.50V305.0ZM980.50,305.0V272.00H983.00V305.0ZM983.00,305.0V234.50H985.50V305.0ZM985.50,305.0V257.00H988.00V305.0ZM988.00,305.0V255.75H990.00V305.0Z" fill="rgba(63,143,115,0.25)"/>
</g>
<g fill="none" stroke-linejoin="round" stroke-linecap="round">
<polyline points="45.50,654.75 46.25,721.00 48.00,770.00 50.00,778.00 52.50,748.50 55.00,664.75 57.50,666.00 60.00,673.50 62.50,648.50 64.50,570.25 67.00,658.50 69.50,599.75 72.00,641.00 74.25,627.25 77.50,674.75 79.50,697.25 81.25,693.50 83.75,758.50 86.25,718.50 88.75,696.00 91.25,684.75 93.75,718.50 97.00,762.25 98.75,733.50 100.50,768.00 103.00,800.00 110.00,820.00 118.00,800.00 122.00,768.00 123.00,733.50 125.00,717.25 127.50,721.00 129.50,746.00 132.00,768.00 133.50,778.00 135.00,754.75 137.00,752.25 138.75,768.00 140.00,778.00 141.25,768.00 144.50,714.75 148.75,691.00 151.25,651.00 154.25,606.00 156.75,626.00 159.25,598.50 161.25,559.00 163.00,571.50 164.50,578.00 165.75,596.00 168.75,741.00 171.25,653.50 173.75,732.25 176.25,712.25 178.00,703.50 183.00,692.25 186.25,709.75 188.00,698.50 190.00,707.25 193.00,689.75 195.50,618.50 198.00,603.50 200.00,606.00 202.50,583.50 205.00,617.25 207.50,616.00 210.00,629.75 212.00,576.00 212.50,562.75 214.50,554.00 217.00,556.50 220.00,526.50 222.00,499.00 223.75,496.50 226.25,540.25 227.30,588.50 229.50,560.25 231.25,577.25 233.75,544.00 236.25,516.50 239.50,466.50 241.25,440.25 243.75,435.25 246.25,485.25 248.75,467.75 251.25,449.50 253.75,451.50 256.00,463.50 258.50,462.75 261.00,455.25 263.00,442.75 265.50,465.25 267.25,462.75 269.75,467.75 272.75,445.25 274.75,457.75 277.75,489.00 279.75,485.25 282.25,466.50 284.75,437.75 287.25,451.50 289.75,484.00 292.25,462.75 294.75,485.25 297.25,461.50 299.25,442.75 301.75,474.00 304.25,466.50 306.75,442.75 308.50,438.50 311.00,439.50 313.50,421.50 316.00,386.50 317.00,372.00 318.50,394.00 320.50,352.00 323.50,285.75 325.50,328.25 328.00,334.50 330.50,302.00 333.00,297.00 335.50,263.25 338.00,284.50 339.75,282.00 343.00,309.50 345.50,304.50 348.00,265.75 350.50,272.00 354.75,287.00 357.25,286.50 359.75,299.50 361.75,290.75 364.25,303.25 366.00,299.50 369.75,318.25 371.75,314.50 374.25,328.25 377.25,345.75 379.75,308.25 382.25,298.25 384.25,315.75 386.75,289.50 389.25,319.50 393.50,312.00 396.00,287.00 398.50,252.00 400.50,244.50 403.50,242.00 406.00,274.50 408.50,248.25 411.00,220.75 413.50,242.00 416.00,224.50 418.50,212.00 422.25,252.00 426.00,213.25 428.00,190.00 428.80,180.50 430.50,192.00 433.00,239.50 435.50,213.25 442.25,222.00 444.75,193.25 446.50,190.00 448.50,186.00 451.75,136.00 454.00,130.00 456.75,105.00 459.75,108.00 461.75,113.00 464.00,111.75 468.50,115.00 471.50,130.00 474.00,165.00 477.00,162.50 480.50,138.75 483.50,186.00 485.50,155.00 491.00,135.00 493.50,136.00 495.50,145.00 498.00,132.50 499.75,135.00 502.50,123.20 505.60,148.50 507.20,147.40 509.90,126.70 514.60,148.50 519.50,113.00 522.00,105.00 524.50,78.00 527.00,79.00 529.50,107.50 532.00,144.00 534.50,152.50 537.00,175.00 539.00,194.00 540.75,187.50 543.75,152.50 546.50,174.00 548.75,175.00 550.75,167.50 553.25,163.75 555.75,156.00 558.25,136.00 560.75,167.50 562.75,147.50 565.25,152.50 567.75,155.50 570.25,153.00 572.75,176.00 577.50,141.00 580.00,139.50 582.50,132.50 587.00,151.00 589.50,152.50 592.75,166.00 595.00,167.00 597.50,182.50 599.50,172.00 601.50,174.00 603.25,192.00 604.50,224.50 607.00,264.50 610.75,292.00 613.25,294.50 616.50,255.75 619.00,287.00 621.00,277.00 624.50,294.50 626.50,299.50 628.25,293.25 631.50,295.75 633.25,304.50 635.75,338.25 638.25,329.50 640.00,330.75 642.50,345.75 645.00,355.75 647.50,354.50 650.25,328.25 652.50,372.00 655.00,373.25 656.50,384.00 657.50,394.00 660.00,395.25 662.00,406.50 665.00,400.25 667.00,391.50 670.00,397.75 672.75,404.00 675.00,406.50 677.00,419.00 679.00,420.25 682.00,447.75 684.50,432.75 686.50,421.50 689.00,437.75 691.25,424.00 694.00,449.00 696.50,431.00 699.00,486.50 701.50,485.25 703.25,520.25 705.25,512.75 707.50,521.50 710.75,567.75 714.00,514.00 715.75,487.75 718.25,507.75 720.00,494.00 722.50,500.25 725.00,497.75 727.50,486.50 730.00,492.75 732.50,489.00 735.00,492.75 737.50,496.50 740.00,487.75 742.00,494.00 745.00,520.25 747.00,501.50 749.50,477.75 752.00,484.00 754.50,460.25 756.50,470.25 759.00,410.25 761.50,410.25 764.00,386.50 765.00,396.50 767.00,441.50 768.00,434.00 769.25,414.00 771.00,451.50 773.50,452.75 776.75,451.50 779.25,444.00 781.00,432.75 783.50,454.00 785.50,471.50 788.00,447.75 790.50,442.75 793.00,432.75 795.50,439.00 798.00,436.50 800.50,430.25 803.00,394.00 805.50,406.50 807.50,407.75 810.50,404.00 812.50,399.00 815.00,416.50 817.50,417.75 820.00,429.00 822.25,440.25 825.00,411.50 826.75,414.00 829.25,406.50 831.75,402.75 835.50,400.25 838.75,402.75 841.50,383.50 843.50,387.75 846.00,390.25 848.50,404.00 851.00,394.00 852.50,384.00 853.00,362.00 856.00,347.00 859.25,359.50 861.75,365.75 865.50,368.25 870.00,377.00 873.00,367.00 875.50,358.25 877.50,359.50 880.50,328.25 883.00,323.25 886.75,333.25 890.00,322.00 893.00,324.50 896.25,328.25 899.25,335.75 902.50,330.75 905.00,332.00 908.00,337.00 911.00,332.00 914.25,348.25 916.75,322.00 919.25,337.00 921.75,353.25 924.25,347.00 926.75,350.75 930.50,344.50 933.50,317.00 936.00,328.25 939.25,337.00 942.50,332.00 945.50,340.75 948.00,347.00 950.50,347.00 952.50,337.00 955.50,364.50 958.00,359.50 960.00,372.00 962.50,349.50 965.00,347.00 967.50,307.00 970.00,299.50 972.50,322.00 975.00,290.75 976.75,294.50 979.25,274.50 981.75,302.00 984.25,304.50 986.75,315.75 990.00,310.75" stroke="#2b2b2b" stroke-width="2.9" stroke-opacity="0.25"/>
<polyline points="45.50,654.75 46.25,721.00 48.00,770.00 50.00,778.00 52.50,748.50 55.00,664.75 57.50,666.00 60.00,673.50 62.50,648.50 64.50,570.25 67.00,658.50 69.50,599.75 72.00,641.00 74.25,627.25 77.50,674.75 79.50,697.25 81.25,693.50 83.75,758.50 86.25,718.50 88.75,696.00 91.25,684.75 93.75,718.50 97.00,762.25 98.75,733.50 100.50,768.00 103.00,800.00 110.00,820.00 118.00,800.00 122.00,768.00 123.00,733.50 125.00,717.25 127.50,721.00 129.50,746.00 132.00,768.00 133.50,778.00 135.00,754.75 137.00,752.25 138.75,768.00 140.00,778.00 141.25,768.00 144.50,714.75 148.75,691.00 151.25,651.00 154.25,606.00 156.75,626.00 159.25,598.50 161.25,559.00 163.00,571.50 164.50,578.00 165.75,596.00 168.75,741.00 171.25,653.50 173.75,732.25 176.25,712.25 178.00,703.50 183.00,692.25 186.25,709.75 188.00,698.50 190.00,707.25 193.00,689.75 195.50,618.50 198.00,603.50 200.00,606.00 202.50,583.50 205.00,617.25 207.50,616.00 210.00,629.75 212.00,576.00 212.50,562.75 214.50,554.00 217.00,556.50 220.00,526.50 222.00,499.00 223.75,496.50 226.25,540.25 227.30,588.50 229.50,560.25 231.25,577.25 233.75,544.00 236.25,516.50 239.50,466.50 241.25,440.25 243.75,435.25 246.25,485.25 248.75,467.75 251.25,449.50 253.75,451.50 256.00,463.50 258.50,462.75 261.00,455.25 263.00,442.75 265.50,465.25 267.25,462.75 269.75,467.75 272.75,445.25 274.75,457.75 277.75,489.00 279.75,485.25 282.25,466.50 284.75,437.75 287.25,451.50 289.75,484.00 292.25,462.75 294.75,485.25 297.25,461.50 299.25,442.75 301.75,474.00 304.25,466.50 306.75,442.75 308.50,438.50 311.00,439.50 313.50,421.50 316.00,386.50 317.00,372.00 318.50,394.00 320.50,352.00 323.50,285.75 325.50,328.25 328.00,334.50 330.50,302.00 333.00,297.00 335.50,263.25 338.00,284.50 339.75,282.00 343.00,309.50 345.50,304.50 348.00,265.75 350.50,272.00 354.75,287.00 357.25,286.50 359.75,299.50 361.75,290.75 364.25,303.25 366.00,299.50 369.75,318.25 371.75,314.50 374.25,328.25 377.25,345.75 379.75,308.25 382.25,298.25 384.25,315.75 386.75,289.50 389.25,319.50 393.50,312.00 396.00,287.00 398.50,252.00 400.50,244.50 403.50,242.00 406.00,274.50 408.50,248.25 411.00,220.75 413.50,242.00 416.00,224.50 418.50,212.00 422.25,252.00 426.00,213.25 428.00,190.00 428.80,180.50 430.50,192.00 433.00,239.50 435.50,213.25 442.25,222.00 444.75,193.25 446.50,190.00 448.50,186.00 451.75,136.00 454.00,130.00 456.75,105.00 459.75,108.00 461.75,113.00 464.00,111.75 468.50,115.00 471.50,130.00 474.00,165.00 477.00,162.50 480.50,138.75 483.50,186.00 485.50,155.00 491.00,135.00 493.50,136.00 495.50,145.00 498.00,132.50 499.75,135.00 502.50,123.20 505.60,148.50 507.20,147.40 509.90,126.70 514.60,148.50 519.50,113.00 522.00,105.00 524.50,78.00 527.00,79.00 529.50,107.50 532.00,144.00 534.50,152.50 537.00,175.00 539.00,194.00 540.75,187.50 543.75,152.50 546.50,174.00 548.75,175.00 550.75,167.50 553.25,163.75 555.75,156.00 558.25,136.00 560.75,167.50 562.75,147.50 565.25,152.50 567.75,155.50 570.25,153.00 572.75,176.00 577.50,141.00 580.00,139.50 582.50,132.50 587.00,151.00 589.50,152.50 592.75,166.00 595.00,167.00 597.50,182.50 599.50,172.00 601.50,174.00 603.25,192.00 604.50,224.50 607.00,264.50 610.75,292.00 613.25,294.50 616.50,255.75 619.00,287.00 621.00,277.00 624.50,294.50 626.50,299.50 628.25,293.25 631.50,295.75 633.25,304.50 635.75,338.25 638.25,329.50 640.00,330.75 642.50,345.75 645.00,355.75 647.50,354.50 650.25,328.25 652.50,372.00 655.00,373.25 656.50,384.00 657.50,394.00 660.00,395.25 662.00,406.50 665.00,400.25 667.00,391.50 670.00,397.75 672.75,404.00 675.00,406.50 677.00,419.00 679.00,420.25 682.00,447.75 684.50,432.75 686.50,421.50 689.00,437.75 691.25,424.00 694.00,449.00 696.50,431.00 699.00,486.50 701.50,485.25 703.25,520.25 705.25,512.75 707.50,521.50 710.75,567.75 714.00,514.00 715.75,487.75 718.25,507.75 720.00,494.00 722.50,500.25 725.00,497.75 727.50,486.50 730.00,492.75 732.50,489.00 735.00,492.75 737.50,496.50 740.00,487.75 742.00,494.00 745.00,520.25 747.00,501.50 749.50,477.75 752.00,484.00 754.50,460.25 756.50,470.25 759.00,410.25 761.50,410.25 764.00,386.50 765.00,396.50 767.00,441.50 768.00,434.00 769.25,414.00 771.00,451.50 773.50,452.75 776.75,451.50 779.25,444.00 781.00,432.75 783.50,454.00 785.50,471.50 788.00,447.75 790.50,442.75 793.00,432.75 795.50,439.00 798.00,436.50 800.50,430.25 803.00,394.00 805.50,406.50 807.50,407.75 810.50,404.00 812.50,399.00 815.00,416.50 817.50,417.75 820.00,429.00 822.25,440.25 825.00,411.50 826.75,414.00 829.25,406.50 831.75,402.75 835.50,400.25 838.75,402.75 841.50,383.50 843.50,387.75 846.00,390.25 848.50,404.00 851.00,394.00 852.50,384.00 853.00,362.00 856.00,347.00 859.25,359.50 861.75,365.75 865.50,368.25 870.00,377.00 873.00,367.00 875.50,358.25 877.50,359.50 880.50,328.25 883.00,323.25 886.75,333.25 890.00,322.00 893.00,324.50 896.25,328.25 899.25,335.75 902.50,330.75 905.00,332.00 908.00,337.00 911.00,332.00 914.25,348.25 916.75,322.00 919.25,337.00 921.75,353.25 924.25,347.00 926.75,350.75 930.50,344.50 933.50,317.00 936.00,328.25 939.25,337.00 942.50,332.00 945.50,340.75 948.00,347.00 950.50,347.00 952.50,337.00 955.50,364.50 958.00,359.50 960.00,372.00 962.50,349.50 965.00,347.00 967.50,307.00 970.00,299.50 972.50,322.00 975.00,290.75 976.75,294.50 979.25,274.50 981.75,302.00 984.25,304.50 986.75,315.75 990.00,310.75" stroke="#2b2b2b" stroke-width="1.7" stroke-opacity="0.85"/>
</g>
</g>
</svg></body></html>
